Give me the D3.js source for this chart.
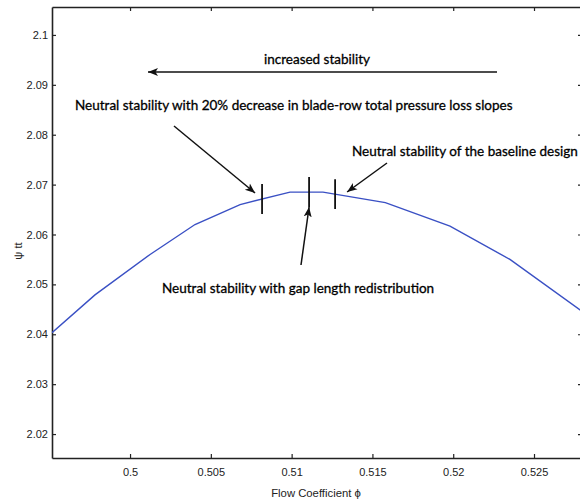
<!DOCTYPE html>
<html>
<head>
<meta charset="utf-8">
<script src="https://cdn.jsdelivr.net/npm/d3@7"></script>
<style>
  html, body { margin: 0; padding: 0; background: #fff; }
  svg { display: block; }
  .tick text { font-family: "Liberation Sans", Arial, sans-serif; font-size: 11px; fill: #222; }
  .note { font-family: Lato, "Open Sans", sans-serif; font-size: 13.5px; fill: #000; stroke: #000; stroke-width: 0.3px; }
  .title { font-family: "Liberation Sans", Arial, sans-serif; font-size: 11.3px; fill: #222; }
</style>
</head>
<body>
<svg id="chart" width="580" height="501"></svg>
<script>
// Characteristic curve: total-to-total pressure rise vs flow coefficient
const phi = [0.49517, 0.49783, 0.50124, 0.50402, 0.50681, 0.50990, 0.51194, 0.51580, 0.51980, 0.52351, 0.52797];
const psi = [2.0403, 2.0479, 2.0560, 2.0620, 2.0660, 2.0685, 2.0685, 2.0664, 2.0617, 2.0550, 2.0446];

// Neutral-stability points along the curve
const stabilityPhi = [0.50817, 0.51108, 0.51269];

const xTicks = [0.5, 0.505, 0.51, 0.515, 0.52, 0.525];
const xTickLabels = ["0.5", "0.505", "0.51", "0.515", "0.52", "0.525"];
const yTicks = [2.02, 2.03, 2.04, 2.05, 2.06, 2.07, 2.08, 2.09, 2.1];
const yTickLabels = ["2.02", "2.03", "2.04", "2.05", "2.06", "2.07", "2.08", "2.09", "2.1"];

const svg = d3.select("#chart");
const L = 52, R = 582, T = 7, B = 458;

const x = d3.scaleLinear().domain([0.49517, 0.52797]).range([L, R]);
const y = d3.scaleLinear().domain([2.0152, 2.1056]).range([B, T]);

const defs = svg.append("defs");
defs.append("marker")
  .attr("id", "head").attr("viewBox", "0 0 10 10")
  .attr("refX", 10).attr("refY", 5)
  .attr("markerWidth", 10).attr("markerHeight", 10)
  .attr("markerUnits", "userSpaceOnUse")
  .attr("orient", "auto")
  .append("path").attr("d", "M0,1 L10,5 L0,9 L2.5,5 Z").attr("fill", "#111");

const clip = defs.append("clipPath").attr("id", "plot");
clip.append("rect").attr("x", L).attr("y", T).attr("width", R - L).attr("height", B - T);

// Axes (inward ticks on all four sides)
const tickLen = 4;
svg.append("g").attr("transform", `translate(0,${B})`)
  .call(d3.axisBottom(x).tickValues(xTicks).tickFormat((d, i) => xTickLabels[i]).tickSizeInner(-tickLen).tickSizeOuter(0).tickPadding(10));
svg.append("g").attr("transform", `translate(0,${T})`)
  .call(d3.axisTop(x).tickValues(xTicks).tickFormat("").tickSizeInner(-tickLen).tickSizeOuter(0));
svg.append("g").attr("transform", `translate(${L},0)`)
  .call(d3.axisLeft(y).tickValues(yTicks).tickFormat((d, i) => yTickLabels[i]).tickSizeInner(-tickLen).tickSizeOuter(0).tickPadding(4));
svg.append("g").attr("transform", `translate(${R},0)`)
  .call(d3.axisRight(y).tickValues(yTicks).tickFormat("").tickSizeInner(-tickLen).tickSizeOuter(0));

svg.selectAll(".domain").attr("stroke", "#222").attr("stroke-width", 1.6);
svg.selectAll(".tick line").attr("stroke", "#222").attr("stroke-width", 1.2);

// Curve
const pts = phi.map((p, i) => [p, psi[i]]);
svg.append("path")
  .datum(pts)
  .attr("clip-path", "url(#plot)")
  .attr("fill", "none")
  .attr("stroke", "#3a50c4")
  .attr("stroke-width", 1.4)
  .attr("d", d3.line().x(d => x(d[0])).y(d => y(d[1])));

// Stability markers: short vertical bars centred on the curve
const psiAt = p => {
  const i = d3.bisectRight(phi, p) - 1;
  const t = (p - phi[i]) / (phi[i + 1] - phi[i]);
  return psi[i] + t * (psi[i + 1] - psi[i]);
};
const barHalf = 0.003;
svg.selectAll("line.stab")
  .data(stabilityPhi)
  .join("line")
  .attr("class", "stab")
  .attr("x1", d => x(d)).attr("x2", d => x(d))
  .attr("y1", d => y(psiAt(d) + barHalf))
  .attr("y2", d => y(psiAt(d) - barHalf))
  .attr("stroke", "#111").attr("stroke-width", 1.8);

// Annotations
function arrow(x1, y1, x2, y2) {
  svg.append("line")
    .attr("x1", x1).attr("y1", y1).attr("x2", x2).attr("y2", y2)
    .attr("stroke", "#111").attr("stroke-width", 1.5)
    .attr("marker-end", "url(#head)");
}
function note(tx, ty, text, anchor) {
  svg.append("text").attr("class", "note")
    .attr("x", tx).attr("y", ty)
    .attr("text-anchor", anchor || "start")
    .text(text);
}

note(317, 64, "increased stability", "middle");
arrow(497, 72, 148, 72);

note(75, 110, "Neutral stability with 20% decrease in blade-row total pressure loss slopes");
arrow(174, 126, x(stabilityPhi[0]) - 7, 193);

note(352, 156, "Neutral stability of the baseline design");
arrow(387, 163, x(stabilityPhi[2]) + 12, 192);

note(162, 293, "Neutral stability with gap length redistribution");
arrow(301, 265, x(stabilityPhi[1]), 207);

// Axis titles
svg.append("text").attr("class", "title")
  .attr("x", 316).attr("y", 497)
  .attr("text-anchor", "middle")
  .text("Flow Coefficient \u03d5");

svg.append("text").attr("class", "title")
  .attr("transform", "translate(22,251) rotate(-90)")
  .attr("text-anchor", "middle")
  .text("\u03c8 tt");
</script>
</body>
</html>
